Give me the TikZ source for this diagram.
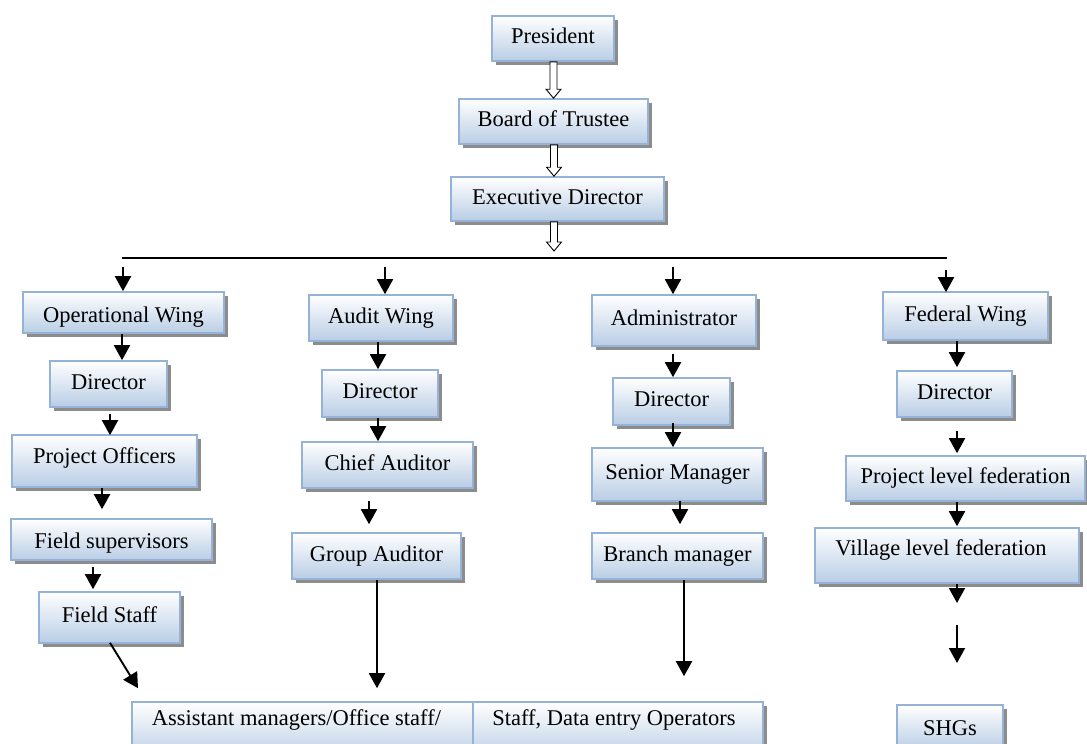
\documentclass[tikz,border=0pt]{standalone}
\usepackage{fontspec}
\setmainfont{Liberation Serif}
\usetikzlibrary{arrows.meta,shadows,calc}
\definecolor{boxline}{RGB}{149,179,215}
\definecolor{boxblue}{RGB}{185,205,229}
\tikzset{
  box/.style={draw=boxline, line width=1.6pt, top color=white, bottom color=boxblue,
    drop shadow={shadow xshift=4pt, shadow yshift=-4pt, fill=black!45, opacity=1},
    inner sep=0pt, font=\fontsize{22.5}{27}\selectfont, text height=15pt, text depth=5pt},
  arr/.style={line width=1.9pt, -{Triangle[width=16pt,length=15pt]}},
  busline/.style={line width=1.8pt},
  hollowarrow/.style={draw=black, line width=0.9pt, fill=white, to path={
    let \p1=(\tikztostart), \p2=(\tikztotarget) in
    (\x1-3.5pt,\y1) -- (\x1-3.5pt,\y2+9pt) -- (\x1-7.5pt,\y2+9pt) -- (\x1,\y2)
    -- (\x1+7.5pt,\y2+9pt) -- (\x1+3.5pt,\y2+9pt) -- (\x1+3.5pt,\y1) -- cycle}}
}
\begin{document}
\begin{tikzpicture}[x=1pt,y=-1pt]
\useasboundingbox (0,0) rectangle (1087,744);
% top chain
\node[box, minimum width=122pt, minimum height=45pt] (pres) at (553,38.5) {President};
\node[box, minimum width=189pt, minimum height=45pt] (board) at (553.5,121.5) {Board of Trustee};
\node[box, minimum width=213pt, minimum height=44pt] (exec) at (557.5,199) {Executive Director};
\coordinate (bushub) at (554,251);
\coordinate (busL) at (122,258);
\coordinate (busR) at (947,258);
\draw[busline] (busL) -- (busR);
\draw[hollowarrow] ([xshift=0.5pt]pres.south) to (board.north);
\draw[hollowarrow] ([xshift=0.5pt]board.south) to ([xshift=-3.5pt]exec.north);
\draw[hollowarrow] ([xshift=-3.5pt]exec.south) to (bushub);
% operational column
\node[box, minimum width=201pt, minimum height=41pt, text height=19pt, text depth=0pt] (opw) at (123.5,312.5) {Operational Wing};
\node[box, minimum width=117pt, minimum height=46pt] (opdir) at (108.5,384) {Director};
\node[box, minimum width=185pt, minimum height=52pt, text depth=11pt] (projoff) at (104.5,461) {Project Officers};
\node[box, minimum width=201pt, minimum height=41pt, text height=17pt, text depth=0pt] (fsup) at (111.5,539.5) {Field supervisors};
\node[box, minimum width=141pt, minimum height=51pt] (fstaff) at (109.5,617.5) {Field Staff};
% audit column
\node[box, minimum width=144pt, minimum height=46pt] (auditw) at (381,318) {Audit Wing};
\node[box, minimum width=116pt, minimum height=47pt] (auddir) at (380,393.5) {Director};
\node[box, minimum width=171pt, minimum height=46pt] (chief) at (387.5,465) {Chief Auditor};
\node[box, minimum width=169pt, minimum height=46pt] (group) at (376.5,556) {Group Auditor};
% admin column
\node[box, minimum width=164pt, minimum height=51pt] (admin) at (674,320.5) {Administrator};
\node[box, minimum width=117pt, minimum height=47pt] (admdir) at (671.5,401.5) {Director};
\node[box, minimum width=171pt, minimum height=53pt] (senior) at (677.5,474.5) {Senior Manager};
\node[box, minimum width=171pt, minimum height=46pt] (branch) at (677.5,556) {Branch manager};
% federal column
\node[box, minimum width=165pt, minimum height=48pt] (fedw) at (965.5,316) {Federal Wing};
\node[box, minimum width=115pt, minimum height=46pt] (feddir) at (954.5,394) {Director};
\node[box, minimum width=239pt, minimum height=45pt] (projfed) at (965.5,478.5) {Project level federation};
\node[box, minimum width=264pt, minimum height=55pt, text depth=15pt] (villfed) at (947,555.5) {Village level federation\hspace*{12pt}};
% bottom boxes
\node[box, minimum width=341pt, minimum height=58pt, text depth=27pt] (asst) at (302.5,731) {Assistant managers/Office staff/\hspace*{12pt}};
\node[box, minimum width=290pt, minimum height=58pt, text depth=27pt] (staff) at (618,731) {Staff, Data entry Operators\hspace*{8pt}};
\node[box, minimum width=106pt, minimum height=45pt, text depth=0pt] (shg) at (950,727.5) {SHGs};
% arrows from bus
\coordinate (t1) at (123,267);
\coordinate (t2) at (385,267);
\coordinate (t3) at (673,267);
\coordinate (t4) at (946,270);
\draw[arr] (t1) -- (t1 |- opw.north);
\draw[arr] (t2) -- (t2 |- auditw.north);
\draw[arr] (t3) -- (t3 |- admin.north);
\draw[arr] (t4) -- ([yshift=-1pt]t4 |- fedw.north);
% operational arrows
\draw[arr] ([xshift=-1.5pt]opw.south) -- ([xshift=13.5pt]opdir.north);
\draw[arr] ([xshift=1.5pt,yshift=-6pt]opdir.south) -- ([xshift=5.5pt,yshift=-1pt]projoff.north);
\draw[arr] ([xshift=-2.5pt]projoff.south) -- ([xshift=-9.5pt,yshift=9pt]fsup.north);
\draw[arr] ([xshift=-18.5pt,yshift=-6pt]fsup.south) -- ([xshift=-16.5pt,yshift=2pt]fstaff.north);
\draw[arr] ([xshift=0.5pt,yshift=1pt]fstaff.south) -- ([xshift=-164.5pt,yshift=13pt]asst.north);
% audit arrows
\draw[arr] ([xshift=-3pt]auditw.south) -- ([xshift=-2pt]auddir.north);
\draw[arr] ([xshift=-2pt]auddir.south) -- ([xshift=-9.5pt]chief.north);
\draw[arr] ([xshift=-18.5pt,yshift=-12pt]chief.south) -- ([xshift=-7.5pt,yshift=8pt]group.north);
\draw[arr] ([xshift=0.5pt]group.south) -- ([xshift=74.5pt,yshift=13pt]asst.north);
% admin arrows
\draw[arr] ([xshift=-1pt,yshift=-7pt]admin.south) -- ([xshift=1.5pt]admdir.north);
\draw[arr] ([xshift=1.5pt,yshift=3pt]admdir.south) -- ([xshift=-4.5pt]senior.north);
\draw[arr] ([xshift=2.5pt,yshift=1pt]senior.south) -- ([xshift=2.5pt,yshift=8pt]branch.north);
\draw[arr] ([xshift=6.5pt]branch.south) -- ([xshift=66pt,yshift=25pt]staff.north);
% federal arrows
\draw[arr] ([xshift=-8.5pt]fedw.south) -- ([xshift=2.5pt,yshift=3pt]feddir.north);
\draw[arr] ([xshift=2.5pt,yshift=-13pt]feddir.south) -- ([xshift=-8.5pt,yshift=2pt]projfed.north);
\draw[arr] ([xshift=-8.5pt]projfed.south) -- ([xshift=10pt,yshift=1pt]villfed.north);
\coordinate (s1) at (957,603);
\coordinate (s2) at (957,625);
\coordinate (s3) at (957,663);
\draw[arr] (villfed.south -| s1) -- (s1);
\draw[arr] (s2) -- (s3);
\end{tikzpicture}
\end{document}
